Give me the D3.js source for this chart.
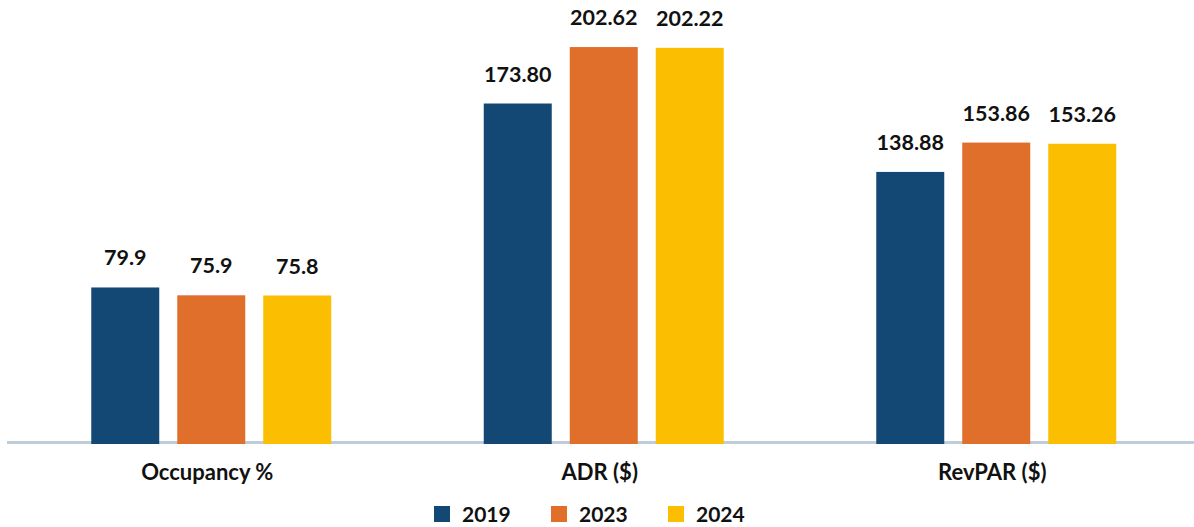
<!DOCTYPE html>
<html>
<head>
<meta charset="utf-8">
<script src="https://cdn.jsdelivr.net/npm/d3@7"></script>
<style>
  html, body { margin: 0; padding: 0; background: #fff; }
  svg { display: block; font-family: Lato, "Open Sans", sans-serif; }
</style>
</head>
<body>
<svg id="chart" width="1194" height="527"></svg>
<script>
const categories = ["Occupancy %", "ADR ($)", "RevPAR ($)"];
const years = ["2019", "2023", "2024"];
const values2019 = [79.9, 173.80, 138.88];
const values2023 = [75.9, 202.62, 153.86];
const values2024 = [75.8, 202.22, 153.26];
const labels2019 = ["79.9", "173.80", "138.88"];
const labels2023 = ["75.9", "202.62", "153.86"];
const labels2024 = ["75.8", "202.22", "153.26"];
const colors = ["#134874", "#E06F2B", "#FBBE00"];

const seriesValues = [values2019, values2023, values2024];
const seriesLabels = [labels2019, labels2023, labels2024];

const svg = d3.select("#chart");
const baseline = 444;

const x0 = d3.scaleBand().domain(categories).range([15, 1192.5]).padding(0);
const x1 = d3.scaleBand().domain(years).range([-129, 129])
  .paddingInner(18 / 86).paddingOuter(0.1047);
const y = d3.scaleLinear().domain([0, 220]).range([baseline, 13]);
const color = d3.scaleOrdinal().domain(years).range(colors);

// baseline axis line
svg.append("line")
  .attr("x1", 7).attr("x2", 1194)
  .attr("y1", baseline - 1.5).attr("y2", baseline - 1.5)
  .attr("stroke", "#BFCDDA").attr("stroke-width", 3);

const rows = [];
categories.forEach((c, ci) => {
  years.forEach((yr, si) => {
    rows.push({ cat: c, year: yr, value: seriesValues[si][ci], label: seriesLabels[si][ci] });
  });
});

const cx = d => x0(d.cat) + x0.bandwidth() / 2;

svg.append("g").selectAll("rect").data(rows).join("rect")
  .attr("x", d => cx(d) + x1(d.year))
  .attr("y", d => y(d.value))
  .attr("width", x1.bandwidth())
  .attr("height", d => baseline - y(d.value))
  .attr("fill", d => color(d.year));

svg.append("g").selectAll("text").data(rows).join("text")
  .attr("x", d => cx(d) + x1(d.year) + x1.bandwidth() / 2)
  .attr("y", d => y(d.value) - 22)
  .attr("text-anchor", "middle")
  .attr("font-size", 21.5)
  .attr("font-weight", 700)
  .attr("fill", "#111")
  .text(d => d.label);

// category labels
svg.append("g").selectAll("text").data(categories).join("text")
  .attr("x", c => x0(c) + x0.bandwidth() / 2 - 4)
  .attr("y", 480)
  .attr("text-anchor", "middle")
  .attr("font-size", 22)
  .attr("font-weight", 700)
  .attr("fill", "#111")
  .text(c => c);

// legend
const legend = svg.append("g").selectAll("g").data(years).join("g")
  .attr("transform", (d, i) => `translate(${434 + i * 117},0)`);
legend.append("rect")
  .attr("x", 0).attr("y", 506).attr("width", 16).attr("height", 16)
  .attr("fill", d => color(d));
legend.append("text")
  .attr("x", 28).attr("y", 522)
  .attr("font-size", 21).attr("font-weight", 700).attr("fill", "#111")
  .text(d => d);
</script>
</body>
</html>
